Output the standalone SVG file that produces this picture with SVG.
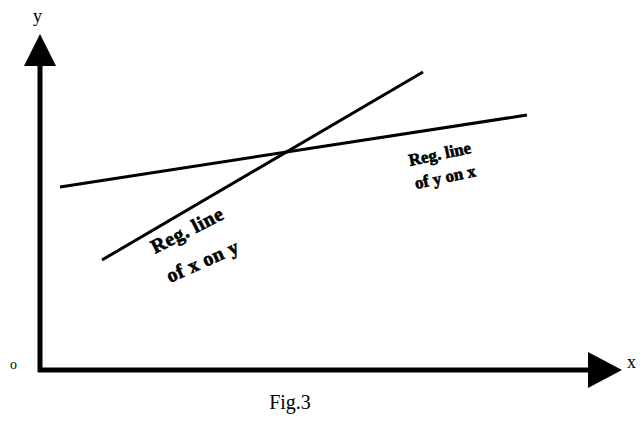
<svg xmlns="http://www.w3.org/2000/svg" width="640" height="422" viewBox="0 0 640 422">
<style>
.ax{stroke:#000;stroke-width:5;fill:none}
.rl{stroke:#000;stroke-width:3;fill:none}
.lab{font-family:"Liberation Serif",serif;font-weight:bold;font-size:17px;fill:#000;stroke:#000;stroke-width:0.6}
.big{font-size:20px;letter-spacing:0.5px}
.t{font-family:"Liberation Serif",serif;fill:#000}
</style>
<rect width="640" height="422" fill="#fff"/>
<g id="axes">
<line class="ax" x1="40" y1="372" x2="40" y2="60"/>
<polygon points="40,34 24,66 56,66" fill="#000"/>
<line class="ax" x1="38" y1="370" x2="592" y2="370"/>
<polygon points="622,370 588,352 588,388" fill="#000"/>
<text class="t" x="33" y="22" font-size="18">y</text>
<text class="t" x="627" y="368" font-size="18">x</text>
<text class="t" x="10" y="369" font-size="14">o</text>
<text class="t" x="290" y="409" font-size="20" text-anchor="middle">Fig.3</text>
</g>
<g id="connectors">
<line id="x-on-y" class="rl" x1="102" y1="260" x2="423" y2="72"/>
<line id="y-on-x" class="rl" x1="60" y1="187" x2="527" y2="115"/>
</g>
<g id="label-x-on-y">
<text class="lab big" transform="translate(155,254) rotate(-27)">Reg. line</text>
<text class="lab big" transform="translate(170,283) rotate(-24)">of x on y</text>
</g>
<g id="label-y-on-x">
<text class="lab" transform="translate(410,166) rotate(-12)">Reg. line</text>
<text class="lab" transform="translate(416,189) rotate(-12)">of y on x</text>
</g>
</svg>
